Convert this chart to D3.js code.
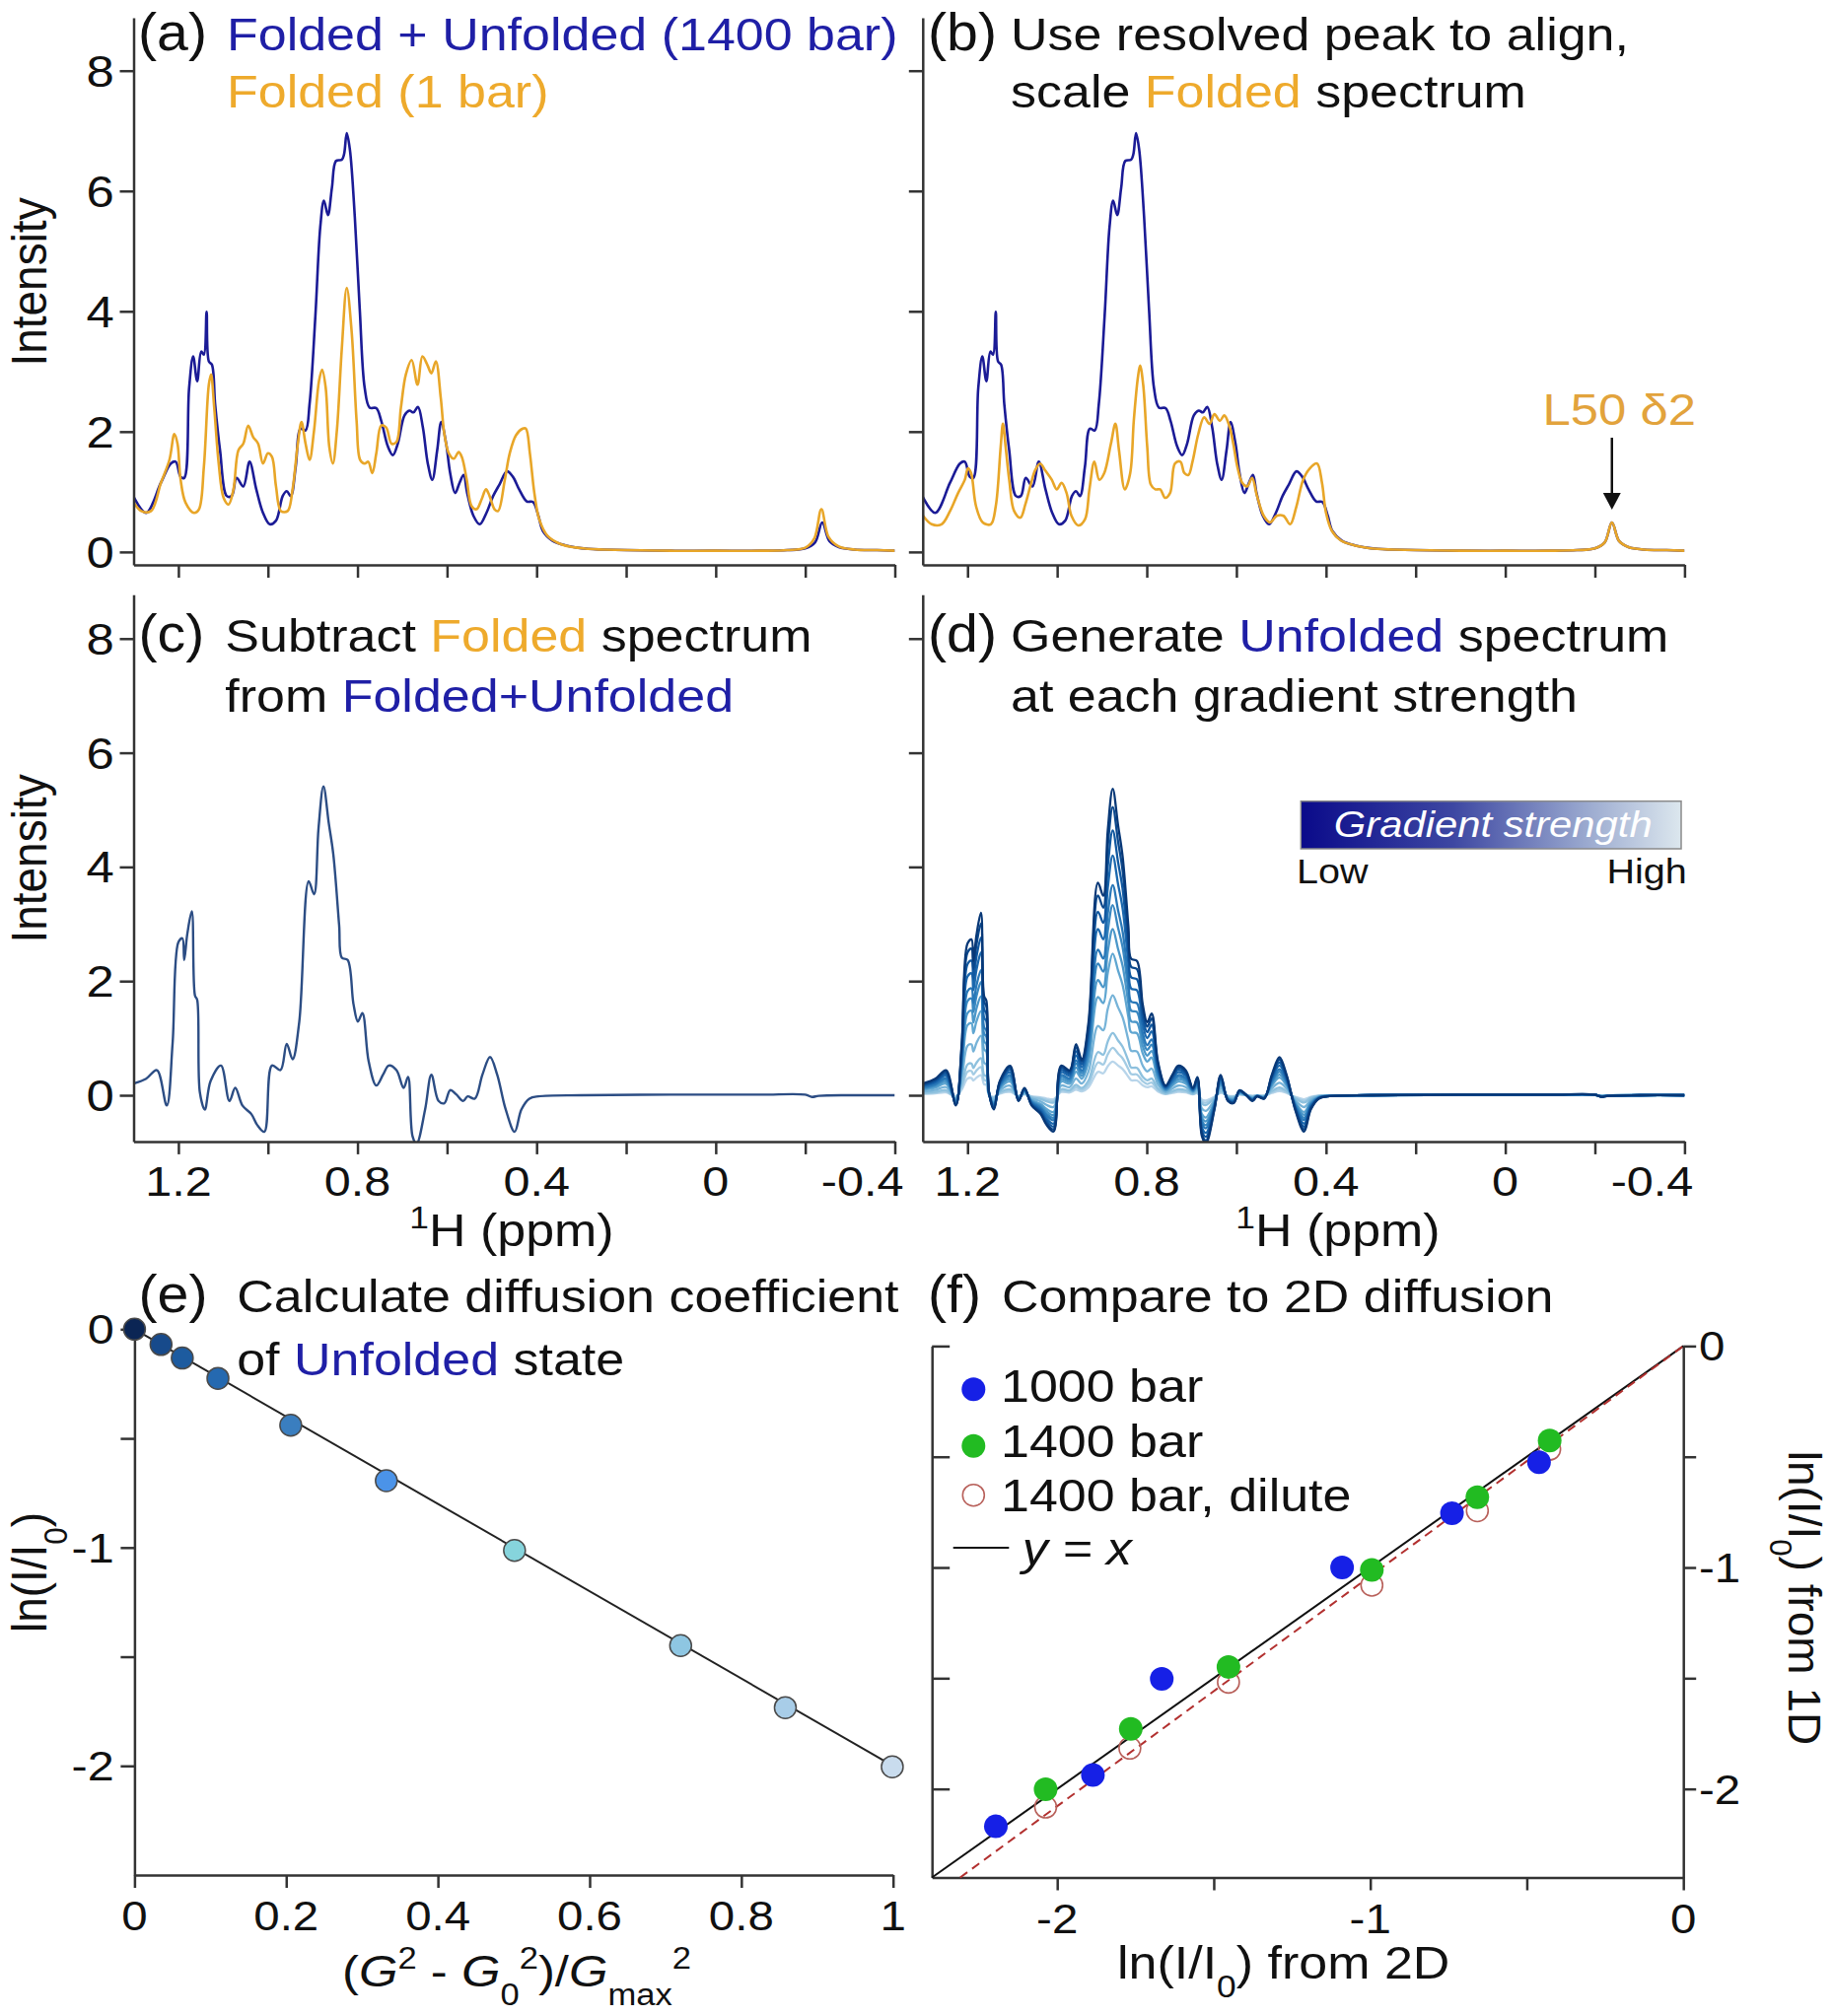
<!DOCTYPE html>
<html>
<head>
<meta charset="utf-8">
<script src="https://cdn.jsdelivr.net/npm/d3@7"></script>
<style>
  body { margin: 0; background: #fff; }
  svg { display: block; font-family: "Liberation Sans", Arial, sans-serif; }
</style>
</head>
<body>
<svg id="fig" width="1860" height="2045"></svg>
<script>
// ---------------- data ----------------
// [ppm, intensity]
const tailMixed = [[0.25,0.04],[0.2,0.03],[0.1,0.02],[0.0,0.02],[-0.1,0.02],[-0.16,0.03],[-0.2,0.06],[-0.222,0.16],[-0.238,0.49],[-0.254,0.18],[-0.275,0.08],[-0.31,0.04],[-0.36,0.03],[-0.4,0.02]];

// Folded + Unfolded (1400 bar), panels a and b
const mixed1400 = [[1.301,0.93],[1.272,0.65],[1.239,1.15],[1.217,1.47],[1.206,1.50],[1.195,1.25],[1.187,1.23],[1.176,2.73],[1.167,3.25],[1.158,2.84],[1.149,3.33],[1.143,3.28],[1.137,3.99],[1.132,3.17],[1.125,3.11],[1.118,2.46],[1.107,1.69],[1.092,0.93],[1.081,0.93],[1.070,1.23],[1.055,1.09],[1.041,1.50],[1.026,1.04],[1.011,0.65],[0.996,0.46],[0.982,0.52],[0.967,0.93],[0.958,1.01],[0.949,0.93],[0.938,1.42],[0.927,2.05],[0.916,2.02],[0.907,2.46],[0.894,3.93],[0.883,5.41],[0.875,5.84],[0.866,5.60],[0.857,6.06],[0.848,6.50],[0.835,6.52],[0.830,6.61],[0.824,6.96],[0.817,6.69],[0.806,5.57],[0.795,4.04],[0.784,2.73],[0.773,2.40],[0.758,2.39],[0.747,2.18],[0.732,1.75],[0.721,1.61],[0.710,1.80],[0.695,2.27],[0.684,2.35],[0.675,2.32],[0.665,2.41],[0.654,2.07],[0.643,1.47],[0.633,1.20],[0.622,1.69],[0.613,2.16],[0.602,1.80],[0.593,1.31],[0.582,0.98],[0.572,1.15],[0.563,1.28],[0.555,0.98],[0.541,0.60],[0.527,0.46],[0.512,0.65],[0.497,0.93],[0.483,1.12],[0.466,1.34],[0.453,1.25],[0.439,1.04],[0.422,0.84],[0.408,0.83],[0.396,0.60],[0.386,0.35],[0.365,0.19],[0.336,0.11],[0.284,0.05]].concat(tailMixed);

// Folded (1 bar), panel a
const folded1 = [[1.301,0.84],[1.283,0.68],[1.261,0.68],[1.239,1.15],[1.220,1.53],[1.209,1.96],[1.202,1.80],[1.195,1.20],[1.184,0.82],[1.165,0.65],[1.154,0.71],[1.143,1.42],[1.132,2.78],[1.127,2.95],[1.120,2.40],[1.110,1.47],[1.099,0.90],[1.088,0.79],[1.077,1.04],[1.066,1.69],[1.055,1.80],[1.044,2.10],[1.033,1.91],[1.022,1.80],[1.011,1.47],[1.000,1.64],[0.991,1.58],[0.982,1.09],[0.971,0.68],[0.956,0.68],[0.945,1.04],[0.934,1.75],[0.925,2.16],[0.916,1.80],[0.907,1.53],[0.897,2.02],[0.886,2.84],[0.879,3.03],[0.871,2.73],[0.863,1.75],[0.855,1.47],[0.846,2.02],[0.835,3.38],[0.824,4.39],[0.813,3.66],[0.802,2.18],[0.794,1.53],[0.784,1.47],[0.776,1.50],[0.767,1.31],[0.758,1.64],[0.747,2.10],[0.736,2.07],[0.724,1.80],[0.713,1.83],[0.703,2.40],[0.692,2.95],[0.679,3.19],[0.666,2.78],[0.655,3.25],[0.644,3.11],[0.635,2.97],[0.625,3.17],[0.614,2.56],[0.606,1.96],[0.596,1.64],[0.585,1.55],[0.574,1.66],[0.567,1.58],[0.556,1.20],[0.545,0.76],[0.534,0.71],[0.523,0.87],[0.513,1.04],[0.505,0.93],[0.494,0.71],[0.486,0.68],[0.471,1.20],[0.460,1.64],[0.446,1.94],[0.431,2.05],[0.424,2.05],[0.415,1.64],[0.405,0.98],[0.394,0.54],[0.376,0.27],[0.343,0.12],[0.284,0.05],[0.25,0.04],[0.2,0.03],[0.1,0.02],[0.0,0.02],[-0.1,0.02],[-0.16,0.03],[-0.2,0.07],[-0.22,0.22],[-0.236,0.71],[-0.252,0.25],[-0.275,0.09],[-0.31,0.04],[-0.36,0.03],[-0.4,0.02]];

// Folded (1 bar) after align + scale, panel b
const foldedScaled = [[1.302,0.63],[1.280,0.46],[1.258,0.46],[1.239,0.68],[1.221,0.98],[1.206,1.20],[1.199,1.39],[1.192,1.31],[1.181,0.76],[1.166,0.49],[1.148,0.46],[1.137,0.76],[1.126,1.75],[1.121,2.13],[1.115,1.75],[1.107,1.20],[1.096,0.68],[1.082,0.57],[1.071,0.79],[1.060,1.09],[1.049,1.36],[1.038,1.47],[1.027,1.36],[1.012,1.20],[1.001,1.04],[0.990,1.15],[0.979,0.98],[0.968,0.60],[0.953,0.44],[0.938,0.54],[0.928,1.04],[0.917,1.50],[0.906,1.20],[0.895,1.31],[0.880,1.80],[0.870,2.13],[0.862,1.69],[0.849,1.04],[0.837,1.31],[0.829,2.18],[0.820,2.89],[0.815,3.10],[0.808,2.78],[0.799,1.75],[0.791,1.12],[0.781,1.04],[0.770,1.04],[0.759,0.90],[0.748,0.98],[0.737,1.47],[0.725,1.50],[0.716,1.31],[0.707,1.28],[0.698,1.50],[0.685,1.96],[0.672,2.24],[0.660,2.13],[0.649,2.29],[0.637,2.18],[0.627,2.27],[0.616,2.10],[0.607,1.80],[0.598,1.42],[0.587,1.15],[0.576,1.09],[0.565,1.23],[0.554,0.93],[0.539,0.60],[0.525,0.49],[0.510,0.60],[0.495,0.60],[0.480,0.46],[0.466,0.76],[0.451,1.20],[0.436,1.39],[0.420,1.47],[0.409,1.15],[0.400,0.65],[0.387,0.35],[0.367,0.19],[0.337,0.11],[0.286,0.05]].concat(tailMixed);

// Unfolded = difference spectrum, panel c
const unfoldedDiff = [[1.298,0.21],[1.272,0.29],[1.248,0.44],[1.226,-0.18],[1.213,0.90],[1.200,2.68],[1.191,2.75],[1.187,2.37],[1.180,2.83],[1.170,3.22],[1.163,1.75],[1.158,1.67],[1.152,0.05],[1.141,-0.25],[1.128,0.25],[1.105,0.52],[1.086,-0.10],[1.073,0.13],[1.057,-0.18],[1.037,-0.33],[1.024,-0.52],[1.008,-0.64],[0.991,0.52],[0.972,0.44],[0.958,0.90],[0.945,0.63],[0.930,1.29],[0.909,3.75],[0.897,3.52],[0.887,4.68],[0.876,5.41],[0.864,4.76],[0.854,4.22],[0.841,2.98],[0.835,2.41],[0.822,2.37],[0.809,1.60],[0.799,1.29],[0.789,1.44],[0.775,0.59],[0.758,0.17],[0.743,0.36],[0.730,0.52],[0.713,0.44],[0.697,0.13],[0.687,0.32],[0.677,-0.72],[0.668,-0.85],[0.649,-0.25],[0.635,0.36],[0.619,-0.10],[0.606,-0.14],[0.593,0.09],[0.580,0.02],[0.564,-0.10],[0.554,-0.02],[0.538,-0.06],[0.521,0.36],[0.504,0.67],[0.488,0.36],[0.469,-0.25],[0.449,-0.64],[0.434,-0.25],[0.416,-0.06],[0.396,-0.02],[0.3,0.0],[0.1,0.01],[-0.1,0.01],[-0.2,0.01],[-0.215,-0.03],[-0.23,-0.01],[-0.3,0.0],[-0.4,0.0]];

// panel d: peak height of each gradient-strength spectrum (low -> high gradient)
const gradPeaks = [5.37, 5.05, 4.64, 4.2, 3.68, 3.33, 2.91, 2.48, 1.75, 1.09, 0.83, 0.59];

// panel e
const gradX = [0, 0.035, 0.063, 0.110, 0.206, 0.332, 0.501, 0.720, 0.858, 0.999];
const gradLnI = [0, -0.07, -0.132, -0.225, -0.44, -0.694, -1.013, -1.449, -1.733, -2.004];
const gradColors = ['#0b2554', '#174a8b', '#1d5b9f', '#2569b0', '#3a7ebf', '#4b93e8', '#86d4dc', '#8ec6e2', '#a8cde8', '#c9dcee'];
const fitX = [0, 1];
const fitY = [0, -2.0];

// panel f
const f1000X = [-2.196, -1.886, -1.666, -1.09, -0.739, -0.461];
const f1000Y = [-2.169, -1.937, -1.503, -1.0, -0.755, -0.525];
const f1400X = [-2.037, -1.765, -1.453, -0.995, -0.658, -0.427];
const f1400Y = [-2.002, -1.729, -1.449, -1.011, -0.683, -0.427];
const fDilX = [-2.037, -1.768, -1.453, -0.995, -0.658, -0.427];
const fDilY = [-2.082, -1.816, -1.518, -1.08, -0.744, -0.466];
const dashSlope = 1.039;

// ticks
const ppmTicks = [1.2, 1.0, 0.8, 0.6, 0.4, 0.2, 0, -0.2, -0.4];
const ppmLabels = [1.2, 0.8, 0.4, 0, -0.4];
const intensityTicks = [0, 2, 4, 6, 8];
const eXTicks = [0, 0.2, 0.4, 0.6, 0.8, 1];
const lnTicks = [0, -0.5, -1, -1.5, -2];
const lnLabels = [0, -1, -2];
const fXTicks = [-2, -1.5, -1, -0.5, 0];

// ---------------- drawing ----------------
const SX = 1.13;
const navy = '#1b1b96', navyText = '#1f1fa6', orange = '#e8a628', orangeText = '#eeaa2c';
const diffCol = '#2c4d84', ink = '#111';
const svg = d3.select('#fig');
const defs = svg.append('defs');

// text with horizontal stretch, coloured parts, sub/superscripts
function label(g, x, y, parts, o = {}) {
  const size = o.size || 46;
  let tf = `translate(${x},${y}) scale(${o.sx || SX},1)`;
  if (o.rot) tf += ` rotate(${o.rot})`;
  const t = g.append('text').attr('transform', tf)
    .attr('font-size', size)
    .attr('text-anchor', o.anchor || 'start')
    .attr('fill', o.fill || ink);
  if (o.it) t.attr('font-style', 'italic');
  let shift = 0;
  (typeof parts === 'string' ? [parts] : parts).forEach(p => {
    if (typeof p === 'string') p = { t: p };
    const target = p.sup ? -0.4 * size : p.sub ? 0.42 * size : 0;
    const s = t.append('tspan').text(p.t).attr('dy', target - shift);
    shift = target;
    if (p.sup || p.sub) s.attr('font-size', size * 0.68);
    if (p.fill) s.attr('fill', p.fill);
    if (p.it) s.attr('font-style', 'italic');
  });
  return t;
}
const panelTag = (x, y, s) => label(svg, x, y, s, { size: 53, sx: 1.08 });

function styleAxis(g) {
  g.selectAll('.domain').attr('stroke', '#333').attr('stroke-width', 2.5);
  g.selectAll('.tick line').attr('stroke', '#333').attr('stroke-width', 2.5);
  g.selectAll('.tick text').remove();
}

function makePanel(id, xDom, xr, yDom, yr) {
  const x = d3.scaleLinear().domain(xDom).range(xr);
  const y = d3.scaleLinear().domain(yDom).range(yr);
  defs.append('clipPath').attr('id', id).append('rect')
    .attr('x', xr[0]).attr('y', yr[1])
    .attr('width', xr[1] - xr[0]).attr('height', yr[0] - yr[1]);
  const plot = svg.append('g').attr('clip-path', `url(#${id})`);
  return { x, y, plot };
}

function spectrumAxes(p, showX, showY) {
  svg.append('g').attr('transform', `translate(0,${p.y.range()[0]})`)
    .call(d3.axisBottom(p.x).tickValues(ppmTicks).tickSize(13).tickSizeOuter(0))
    .call(styleAxis);
  svg.append('g').attr('transform', `translate(${p.x.range()[0]},0)`)
    .call(d3.axisLeft(p.y).tickValues(intensityTicks).tickSize(14).tickSizeOuter(0))
    .call(styleAxis);
  if (showY) intensityTicks.forEach(v => label(svg, 115.7, p.y(v) + 16, String(v), { anchor: 'end', size: 45 }));
  if (showX) ppmLabels.forEach(v => {
    // the last label sits flush with the axis end
    if (v === -0.4) label(svg, p.x(v) + 9, 1213, String(v), { anchor: 'end', size: 43 });
    else label(svg, p.x(v), 1213, String(v), { anchor: 'middle', size: 43 });
  });
}

function drawSpec(p, data, color, w, k = 1) {
  const ln = d3.line().x(d => p.x(d[0])).y(d => p.y(d[1] * k)).curve(d3.curveCatmullRom.alpha(0.5));
  p.plot.append('path').datum(data).attr('d', ln)
    .attr('fill', 'none').attr('stroke', color).attr('stroke-width', w)
    .attr('stroke-linejoin', 'round');
}

// panels a-d
const pA = makePanel('cA', [1.3, -0.4], [135.5, 907.5], [-0.215, 8.88], [573, 18]);
const pB = makePanel('cB', [1.3, -0.4], [935.8, 1708.4], [-0.215, 8.88], [573, 18]);
const pC = makePanel('cC', [1.3, -0.4], [135.5, 907.5], [-0.81, 8.77], [1157.9, 603.2]);
const pD = makePanel('cD', [1.3, -0.4], [935.8, 1708.4], [-0.81, 8.77], [1157.9, 603.2]);

drawSpec(pA, mixed1400, navy, 2.6);
drawSpec(pA, folded1, orange, 2.6);
drawSpec(pB, mixed1400, navy, 2.6);
drawSpec(pB, foldedScaled, orange, 2.6);
drawSpec(pC, unfoldedDiff, diffCol, 2.4);

const diffMax = d3.max(unfoldedDiff, d => d[1]);
const nG = gradPeaks.length;
for (let i = nG - 1; i >= 0; i--) {
  drawSpec(pD, unfoldedDiff, d3.interpolateBlues(0.97 - 0.68 * i / (nG - 1)), 2.3, gradPeaks[i] / diffMax);
}

spectrumAxes(pA, false, true);
spectrumAxes(pB, false, false);
spectrumAxes(pC, true, true);
spectrumAxes(pD, true, false);

// titles a-d
panelTag(140, 51, '(a)');
label(svg, 230, 51, [{ t: 'Folded + Unfolded (1400 bar)', fill: navyText }]);
label(svg, 230, 109, [{ t: 'Folded (1 bar)', fill: orangeText }]);
panelTag(941, 51, '(b)');
label(svg, 1025, 51, 'Use resolved peak to align,');
label(svg, 1025, 109, ['scale ', { t: 'Folded', fill: orangeText }, ' spectrum']);
panelTag(140.5, 661.4, '(c)');
label(svg, 228.3, 661.4, ['Subtract ', { t: 'Folded', fill: orangeText }, ' spectrum']);
label(svg, 228.3, 721.7, ['from ', { t: 'Folded+Unfolded', fill: navyText }]);
panelTag(941, 661.4, '(d)');
label(svg, 1025, 661.4, ['Generate ', { t: 'Unfolded', fill: navyText }, ' spectrum']);
label(svg, 1025, 721.7, 'at each gradient strength');

label(svg, 47.4, 286, 'Intensity', { rot: -90, anchor: 'middle', size: 46, sx: 1.08 });
label(svg, 47.4, 871, 'Intensity', { rot: -90, anchor: 'middle', size: 46, sx: 1.08 });
label(svg, 519, 1264, [{ t: '1', sup: true }, 'H (ppm)'], { anchor: 'middle' });
label(svg, 1357, 1264, [{ t: '1', sup: true }, 'H (ppm)'], { anchor: 'middle' });

// L50 δ2 annotation
label(svg, 1564.5, 430.5, 'L50 \u03b42', { fill: '#e2a33c', size: 45 });
const ax = pB.x(-0.238);
svg.append('line').attr('x1', ax).attr('x2', ax).attr('y1', 444).attr('y2', 503)
  .attr('stroke', '#111').attr('stroke-width', 2.5);
svg.append('path').attr('d', `M${ax - 9},500 L${ax + 9},500 L${ax},517 Z`).attr('fill', '#111');

// gradient legend in d
const lg = defs.append('linearGradient').attr('id', 'gradLeg');
[['0%', '#0a0a8a'], ['40%', '#3d47a2'], ['75%', '#9aa9cf'], ['100%', '#dce7ee']]
  .forEach(s => lg.append('stop').attr('offset', s[0]).attr('stop-color', s[1]));
svg.append('rect').attr('x', 1319.3).attr('y', 812.7).attr('width', 385.7).attr('height', 48.3)
  .attr('fill', 'url(#gradLeg)').attr('stroke', '#8a8a8a').attr('stroke-width', 1.5);
label(svg, 1352.7, 849.3, 'Gradient strength', { it: true, fill: '#fff', size: 37 });
label(svg, 1315, 896, 'Low', { size: 35 });
label(svg, 1710.7, 896, 'High', { size: 35, anchor: 'end' });

// panel e
const xE = d3.scaleLinear().domain([0, 1]).range([136.4, 905.7]);
const yE = d3.scaleLinear().domain([-2.5, 0.03]).range([1902, 1341.7]);
svg.append('g').attr('transform', `translate(0,${yE(-2.5)})`)
  .call(d3.axisBottom(xE).tickValues(eXTicks).tickSize(13).tickSizeOuter(0)).call(styleAxis);
svg.append('g').attr('transform', `translate(${xE(0)},0)`)
  .call(d3.axisLeft(yE).tickValues(lnTicks).tickSize(14).tickSizeOuter(0)).call(styleAxis);
svg.append('line')
  .attr('x1', xE(fitX[0])).attr('y1', yE(fitY[0]))
  .attr('x2', xE(fitX[1])).attr('y2', yE(fitY[1]))
  .attr('stroke', '#222').attr('stroke-width', 2);
svg.append('g').selectAll('circle').data(gradX).enter().append('circle')
  .attr('cx', d => xE(d))
  .attr('cy', (d, i) => yE(gradLnI[i]))
  .attr('r', 11)
  .attr('fill', (d, i) => gradColors[i])
  .attr('stroke', '#4a4a4a').attr('stroke-width', 1.5);
lnLabels.forEach(v => label(svg, 115.7, yE(v) + 15, String(v), { anchor: 'end', size: 43 }));
eXTicks.forEach(v => label(svg, xE(v), 1958, String(v), { anchor: 'middle', size: 42 }));
panelTag(140.5, 1331.2, '(e)');
label(svg, 240.2, 1331.2, 'Calculate diffusion coefficient');
label(svg, 240.2, 1394.7, ['of ', { t: 'Unfolded', fill: navyText }, ' state']);
label(svg, 47.4, 1595, ['ln(I/I', { t: '0', sub: true }, ')'], { rot: -90, anchor: 'middle', size: 46, sx: 1.08 });
label(svg, 347, 2015, ['(', { t: 'G', it: true }, { t: '2', sup: true }, ' - ', { t: 'G', it: true },
  { t: '0', sub: true }, { t: '2', sup: true }, ')/', { t: 'G', it: true }, { t: 'max', sub: true }, { t: '2', sup: true }],
  { size: 45 });

// panel f
const xF = d3.scaleLinear().domain([-2.4, 0]).range([945.2, 1707.2]);
const yF = d3.scaleLinear().domain([-2.4, 0]).range([1904.5, 1365.4]);
svg.append('g').attr('transform', `translate(0,${yF(-2.4)})`)
  .call(d3.axisBottom(xF).tickValues(fXTicks).tickSize(13).tickSizeOuter(0)).call(styleAxis);
svg.append('g').attr('transform', `translate(${xF(-2.4)},0)`)
  .call(d3.axisLeft(yF).tickValues(lnTicks).tickSize(-18).tickSizeOuter(0)).call(styleAxis);
svg.append('g').attr('transform', `translate(${xF(0)},0)`)
  .call(d3.axisRight(yF).tickValues(lnTicks).tickSize(13).tickSizeOuter(0)).call(styleAxis);

svg.append('line').attr('x1', xF(-2.4)).attr('y1', yF(-2.4)).attr('x2', xF(0)).attr('y2', yF(0))
  .attr('stroke', '#111').attr('stroke-width', 2);
svg.append('line').attr('x1', xF(-2.4 / dashSlope)).attr('y1', yF(-2.4)).attr('x2', xF(0)).attr('y2', yF(0))
  .attr('stroke', '#b2302f').attr('stroke-width', 2).attr('stroke-dasharray', '9,6');

svg.append('g').selectAll('circle').data(fDilX).enter().append('circle')
  .attr('cx', d => xF(d)).attr('cy', (d, i) => yF(fDilY[i])).attr('r', 11)
  .attr('fill', 'none').attr('stroke', '#b8605a').attr('stroke-width', 1.6);
svg.append('g').selectAll('circle').data(f1000X).enter().append('circle')
  .attr('cx', d => xF(d)).attr('cy', (d, i) => yF(f1000Y[i])).attr('r', 12)
  .attr('fill', '#1620e6');
svg.append('g').selectAll('circle').data(f1400X).enter().append('circle')
  .attr('cx', d => xF(d)).attr('cy', (d, i) => yF(f1400Y[i])).attr('r', 12)
  .attr('fill', '#22bb22');

lnLabels.forEach(v => label(svg, 1723, yF(v) + 15, String(v), { size: 42 }));
[-2, -1, 0].forEach(v => label(svg, xF(v), 1960.6, String(v), { anchor: 'middle', size: 42 }));
panelTag(941, 1331.2, '(f)');
label(svg, 1015.9, 1331.2, 'Compare to 2D diffusion');
label(svg, 1133, 2007, ['ln(I/I', { t: '0', sub: true }, ') from 2D']);
label(svg, 1814, 1621, ['ln(I/I', { t: '0', sub: true }, ') from 1D'], { rot: 90, anchor: 'middle', size: 46, sx: 1.0 });

// legend f
const leg = svg.append('g');
leg.append('circle').attr('cx', 987.3).attr('cy', 1409.3).attr('r', 12).attr('fill', '#1620e6');
leg.append('circle').attr('cx', 987.3).attr('cy', 1466.7).attr('r', 12).attr('fill', '#22bb22');
leg.append('circle').attr('cx', 987.3).attr('cy', 1516.7).attr('r', 11).attr('fill', 'none')
  .attr('stroke', '#b8605a').attr('stroke-width', 1.6);
leg.append('line').attr('x1', 966.7).attr('x2', 1023.3).attr('y1', 1570).attr('y2', 1570)
  .attr('stroke', '#111').attr('stroke-width', 2);
label(leg, 1015, 1421.7, '1000 bar');
label(leg, 1015, 1478.3, '1400 bar');
label(leg, 1015, 1533.3, '1400 bar, dilute');
label(leg, 1036.7, 1586.7, 'y = x', { it: true });
</script>
</body>
</html>
